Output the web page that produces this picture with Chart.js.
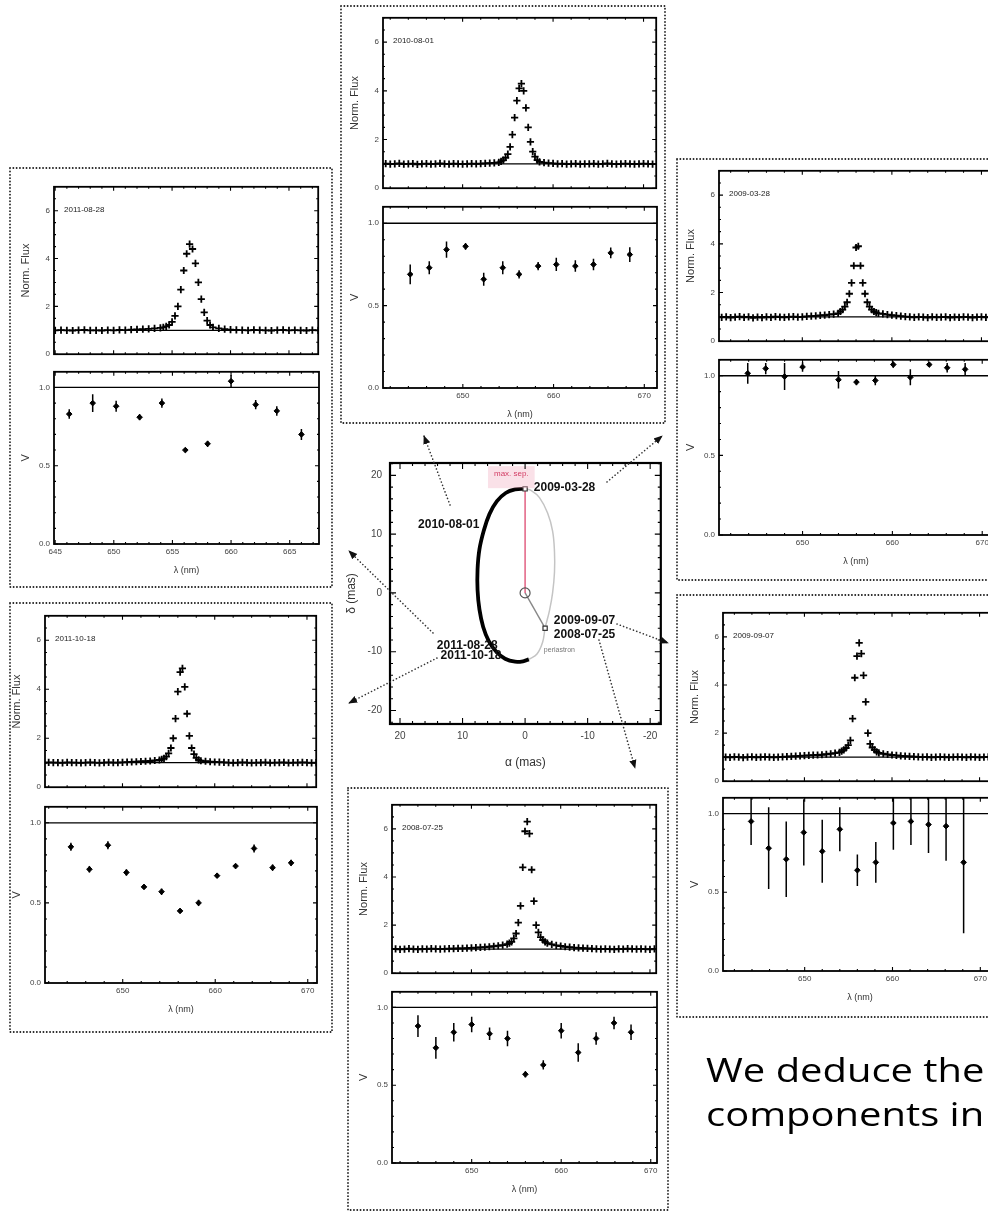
<!DOCTYPE html>
<html>
<head>
<meta charset="utf-8">
<script src="https://cdn.jsdelivr.net/npm/chart.js@4.4.1/dist/chart.umd.min.js"></script>
<style>
html, body { margin: 0; padding: 0; width: 988px; height: 1213px; overflow: hidden; background: #fff; }
#fig { position: absolute; left: 0; top: 0; width: 988px; height: 1213px; filter: blur(0.65px); }
#fig canvas { position: absolute; }
#deco { position: absolute; left: 0; top: 0; pointer-events: none; }
.caption { position: absolute; left: 706px; font-family: 'Open Sans', sans-serif; font-size: 33px; line-height: 44px; color: #000; white-space: nowrap; transform: scaleX(1.21); transform-origin: 0 0; }
</style>
</head>
<body>
<div id="fig"></div>
<div class="caption" style="top:1048px">We deduce the</div>
<div class="caption" style="top:1092px">components in</div>
<script>
// wavelength grid of the spectra (nm)
const fluxGrid = [
	641, 641.5, 642, 642.5, 643, 643.5, 644, 644.5, 645, 645.5, 646, 646.5, 647, 647.5, 648, 648.5, 649, 649.5, 650, 650.5, 651, 651.5, 652, 652.5, 653, 653.5, 654,
	654.25, 654.5, 654.75, 655, 655.25, 655.5, 655.75, 656, 656.25, 656.5, 656.75, 657, 657.25, 657.5, 657.75, 658, 658.25, 658.5,
	659, 659.5, 660, 660.5, 661, 661.5, 662, 662.5, 663, 663.5, 664, 664.5, 665, 665.5, 666, 666.5, 667, 667.5, 668, 668.5, 669, 669.5, 670, 670.5, 671
];

// normalised flux, one list per epoch
const flux20100801 = [
	1.00, 1.01, 0.99, 1.00, 1.02, 0.99, 1.00, 1.01, 0.98, 1.00, 1.01, 0.99, 1.00, 1.02, 1.00, 0.99, 1.01, 1.00, 0.99, 1.00, 1.01, 1.00, 1.01, 1.02, 1.03, 1.04, 1.06,
	1.10, 1.15, 1.25, 1.40, 1.70, 2.20, 2.90, 3.60, 4.10, 4.30, 4.00, 3.30, 2.50, 1.90, 1.50, 1.30, 1.15, 1.08,
	1.05, 1.03, 1.02, 1.00, 1.01, 0.99, 1.00, 1.01, 0.99, 1.00, 1.00, 1.01, 0.99, 1.00, 1.02, 1.00, 0.99, 1.00, 1.01, 1.00, 0.99, 1.00, 1.01, 1.00, 0.99
];
const flux20110828 = [
	1.02, 1.00, 1.01, 0.99, 1.00, 1.02, 1.01, 0.99, 1.00, 1.01, 1.00, 0.99, 1.01, 1.02, 1.00, 1.00, 0.99, 1.01, 1.00, 1.02, 1.01, 1.03, 1.04, 1.05, 1.06, 1.08, 1.10,
	1.12, 1.16, 1.22, 1.35, 1.60, 2.00, 2.70, 3.50, 4.20, 4.60, 4.40, 3.80, 3.00, 2.30, 1.75, 1.40, 1.22, 1.12,
	1.08, 1.05, 1.03, 1.02, 1.01, 1.00, 1.02, 1.01, 1.00, 0.99, 1.01, 1.02, 1.00, 1.01, 1.00, 0.99, 1.01, 1.00, 1.02, 1.01, 1.00, 1.01, 0.99, 1.00, 1.01
];
const flux20090328 = [
	0.98, 1.00, 0.97, 0.99, 1.01, 0.98, 1.00, 0.96, 0.99, 0.97, 1.00, 0.98, 1.01, 0.99, 0.98, 1.00, 1.01, 0.99, 1.00, 1.02, 1.03, 1.04, 1.06, 1.07, 1.09, 1.11, 1.14,
	1.22, 1.30, 1.42, 1.60, 1.95, 2.40, 3.10, 3.85, 3.90, 3.10, 2.40, 1.95, 1.60, 1.42, 1.30, 1.22, 1.17, 1.14,
	1.12, 1.09, 1.07, 1.05, 1.03, 1.01, 1.00, 0.98, 1.00, 0.99, 0.97, 1.00, 0.98, 0.99, 1.00, 0.97, 0.99, 0.98, 1.00, 0.99, 0.97, 0.99, 1.00, 0.98, 0.99
];
const flux20090907 = [
	1.00, 0.99, 1.01, 1.00, 0.98, 1.00, 1.01, 0.99, 1.00, 1.01, 1.00, 0.99, 1.00, 1.01, 1.02, 1.03, 1.04, 1.05, 1.06, 1.07, 1.08, 1.09, 1.10, 1.12, 1.14, 1.17, 1.20,
	1.25, 1.30, 1.38, 1.50, 1.70, 2.60, 4.30, 5.20, 5.75, 5.30, 4.40, 3.30, 2.00, 1.55, 1.40, 1.30, 1.22, 1.18,
	1.14, 1.11, 1.09, 1.07, 1.05, 1.04, 1.03, 1.02, 1.01, 1.00, 1.01, 0.99, 1.00, 1.01, 1.00, 0.99, 1.00, 1.01, 1.00, 0.99, 1.01, 1.00, 0.99, 1.00, 1.01
];
const flux20080725 = [
	1.00, 1.01, 0.99, 1.00, 1.02, 1.00, 0.99, 1.01, 1.00, 1.02, 1.01, 1.00, 1.01, 1.02, 1.02, 1.03, 1.03, 1.04, 1.05, 1.06, 1.07, 1.08, 1.10, 1.12, 1.14, 1.17, 1.21,
	1.25, 1.30, 1.45, 1.65, 2.10, 2.80, 4.40, 5.90, 6.30, 5.80, 4.30, 3.00, 2.00, 1.70, 1.50, 1.38, 1.30, 1.25,
	1.20, 1.16, 1.13, 1.10, 1.08, 1.06, 1.05, 1.04, 1.03, 1.02, 1.01, 1.00, 1.01, 1.00, 0.99, 1.01, 1.00, 1.02, 1.01, 1.00, 1.01, 1.00, 0.99, 1.01, 1.00
];
const flux20111018 = [
	1.00, 0.99, 1.01, 1.00, 1.00, 0.99, 1.01, 1.00, 1.00, 0.99, 1.00, 1.01, 1.00, 0.99, 1.00, 1.01, 1.00, 1.00, 1.01, 1.02, 1.03, 1.04, 1.05, 1.06, 1.07, 1.09, 1.11,
	1.14, 1.18, 1.25, 1.38, 1.60, 2.00, 2.80, 3.90, 4.70, 4.85, 4.10, 3.00, 2.10, 1.60, 1.35, 1.20, 1.12, 1.08,
	1.06, 1.04, 1.03, 1.02, 1.01, 1.00, 0.99, 1.00, 1.01, 1.00, 0.99, 1.00, 1.00, 1.01, 0.99, 1.00, 1.00, 1.01, 0.99, 1.00, 1.00, 1.01, 1.00, 0.99, 1.00
];

// visibilities: wavelength, value, error
const visWl20100801 = [644.2, 646.3, 648.2, 650.3, 652.3, 654.4, 656.2, 658.3, 660.3, 662.4, 664.4, 666.3, 668.4];
const vis20100801 = [0.69, 0.73, 0.84, 0.86, 0.66, 0.73, 0.69, 0.74, 0.75, 0.74, 0.75, 0.82, 0.81];
const visErr20100801 = [0.06, 0.04, 0.05, 0.02, 0.04, 0.04, 0.025, 0.025, 0.04, 0.035, 0.035, 0.033, 0.045];

const visWl20110828 = [646.2, 648.2, 650.2, 652.2, 654.1, 656.1, 658.0, 660.0, 662.1, 663.9, 666.0];
const vis20110828 = [0.83, 0.90, 0.88, 0.81, 0.90, 0.60, 0.64, 1.04, 0.89, 0.85, 0.70];
const visErr20110828 = [0.03, 0.057, 0.035, 0.02, 0.03, 0.015, 0.02, 0.04, 0.03, 0.03, 0.035];

const visWl20090328 = [643.9, 645.9, 648.0, 650.0, 654.0, 656.0, 658.1, 660.1, 662.0, 664.1, 666.1, 668.1];
const vis20090328 = [1.015, 1.045, 0.995, 1.055, 0.975, 0.96, 0.97, 1.07, 0.99, 1.07, 1.05, 1.04];
const visErr20090328 = [0.065, 0.035, 0.085, 0.03, 0.055, 0.02, 0.03, 0.02, 0.05, 0.015, 0.03, 0.04];

const visWl20090907 = [643.9, 645.9, 647.9, 649.9, 652.0, 654.0, 656.0, 658.1, 660.1, 662.1, 664.1, 666.1, 668.1];
const vis20090907 = [0.95, 0.78, 0.71, 0.88, 0.76, 0.90, 0.64, 0.69, 0.94, 0.95, 0.93, 0.92, 0.69];
const visErr20090907 = [0.15, 0.26, 0.24, 0.21, 0.20, 0.14, 0.10, 0.13, 0.17, 0.15, 0.18, 0.22, 0.45];

const visWl20080725 = [644.0, 646.0, 648.0, 650.0, 652.0, 654.0, 656.0, 658.0, 660.0, 661.9, 663.9, 665.9, 667.8];
const vis20080725 = [0.88, 0.74, 0.84, 0.89, 0.83, 0.80, 0.57, 0.63, 0.85, 0.71, 0.80, 0.90, 0.84];
const visErr20080725 = [0.07, 0.07, 0.06, 0.05, 0.04, 0.05, 0.02, 0.03, 0.05, 0.06, 0.04, 0.04, 0.05];

const visWl20111018 = [644.4, 646.4, 648.4, 650.4, 652.3, 654.2, 656.2, 658.2, 660.2, 662.2, 664.2, 666.2, 668.2];
const vis20111018 = [0.85, 0.71, 0.86, 0.69, 0.60, 0.57, 0.45, 0.50, 0.67, 0.73, 0.84, 0.72, 0.75];
const visErr20111018 = [0.025, 0.02, 0.025, 0.02, 0.015, 0.02, 0.015, 0.02, 0.015, 0.015, 0.025, 0.02, 0.02];

// orbit of the companion (mas)
const orbitObserved = [
	[0.0, 17.7], [1.6, 17.6], [3.1, 17.0], [4.5, 15.6], [5.7, 13.4], [6.6, 10.6], [7.3, 7.4], [7.6, 4.0], [7.6, 0.5],
	[7.3, -2.8], [6.7, -5.8], [5.8, -8.2], [4.6, -10.0], [3.2, -11.2], [1.6, -11.7], [0.2, -11.6], [-0.6, -11.3]
];
const orbitRest = [
	[-0.6, -11.3], [-1.9, -10.4], [-2.8, -8.4], [-3.2, -6.0], [-3.9, -3.0], [-4.4, 0.0], [-4.7, 3.5], [-4.7, 7.0],
	[-4.4, 10.5], [-3.6, 13.6], [-2.3, 16.2], [-1.0, 17.4], [0.0, 17.7]
];
const primaryPos = [0, 0];
const maxSepPos = [0, 17.7];
const periastronPos = [-3.2, -6.0];
const orbitLabels = [
	{ text: '2009-03-28', x: -1.4, y: 17.9, align: 'left', kind: 'date' },
	{ text: '2010-08-01', x: 7.3, y: 11.6, align: 'right', kind: 'date' },
	{ text: '2011-08-28', x: 4.4, y: -8.9, align: 'right', kind: 'date' },
	{ text: '2011-10-18', x: 3.8, y: -10.7, align: 'right', kind: 'date' },
	{ text: '2009-09-07', x: -4.6, y: -4.75, align: 'left', kind: 'date' },
	{ text: '2008-07-25', x: -4.6, y: -7.05, align: 'left', kind: 'date' },
	{ text: 'periastron', x: -3.0, y: -9.8, align: 'left', kind: 'peri' },
	{ text: 'max. sep.', x: 2.2, y: 20.2, align: 'center', kind: 'max' }
];

const fig = document.getElementById('fig');
const FONT = '"Liberation Sans", Arial, sans-serif';
Chart.defaults.font.family = FONT;
Chart.defaults.animation = false;
Chart.defaults.plugins.legend.display = false;
Chart.defaults.plugins.tooltip.enabled = false;

const frameTicks = {
	id: 'frameTicks',
	afterDraw(chart, args, opts) {
		const { ctx, chartArea: a, scales } = chart;
		ctx.save();
		ctx.strokeStyle = '#000';
		ctx.lineWidth = opts.lineWidth;
		ctx.strokeRect(a.left, a.top, a.right - a.left, a.bottom - a.top);
		ctx.lineWidth = 1.1;
		const drawAxis = (scale, minor, major, horizontal) => {
			const lo = Math.min(scale.min, scale.max);
			const hi = Math.max(scale.min, scale.max);
			const k0 = Math.ceil(lo / minor - 1e-9);
			const k1 = Math.floor(hi / minor + 1e-9);
			for (let k = k0; k <= k1; k++) {
				const v = k * minor;
				const isMajor = Math.abs(v / major - Math.round(v / major)) < 1e-6;
				const len = isMajor ? opts.majorLen : opts.minorLen;
				const p = scale.getPixelForValue(v);
				ctx.beginPath();
				if (horizontal) {
					ctx.moveTo(p, a.bottom); ctx.lineTo(p, a.bottom - len);
					ctx.moveTo(p, a.top); ctx.lineTo(p, a.top + len);
				} else {
					ctx.moveTo(a.left, p); ctx.lineTo(a.left + len, p);
					ctx.moveTo(a.right, p); ctx.lineTo(a.right - len, p);
				}
				ctx.stroke();
			}
		};
		drawAxis(scales.x, opts.xMinor, opts.xMajor, true);
		drawAxis(scales.y, opts.yMinor, opts.yMajor, false);
		ctx.restore();
	}
};

const errorBars = {
	id: 'errorBars',
	afterDatasetsDraw(chart) {
		const { ctx, chartArea: a, scales: { x, y } } = chart;
		ctx.save();
		ctx.beginPath();
		ctx.rect(a.left, a.top, a.right - a.left, a.bottom - a.top);
		ctx.clip();
		ctx.strokeStyle = '#000';
		ctx.lineWidth = 1.5;
		chart.data.datasets.forEach(ds => {
			if (!ds.errors) return;
			ds.data.forEach((pt, i) => {
				const e = ds.errors[i];
				const px = x.getPixelForValue(pt.x);
				ctx.beginPath();
				ctx.moveTo(px, y.getPixelForValue(pt.y - e));
				ctx.lineTo(px, y.getPixelForValue(pt.y + e));
				ctx.stroke();
			});
		});
		ctx.restore();
	}
};

const cornerLabel = {
	id: 'cornerLabel',
	afterDraw(chart, args, opts) {
		if (!opts.text) return;
		const { ctx, chartArea: a } = chart;
		ctx.save();
		ctx.font = '8px ' + FONT;
		ctx.fillStyle = '#222';
		ctx.textBaseline = 'middle';
		ctx.fillText(opts.text, a.left + 10, a.top + 23);
		ctx.restore();
	}
};

const orbitText = {
	id: 'orbitText',
	afterDatasetsDraw(chart) {
		const { ctx, scales: { x, y } } = chart;
		ctx.save();
		ctx.textBaseline = 'middle';
		orbitLabels.forEach(l => {
			const px = x.getPixelForValue(l.x);
			const py = y.getPixelForValue(l.y);
			ctx.textAlign = l.align;
			if (l.kind === 'date') {
				ctx.font = 'bold 12px ' + FONT;
				ctx.fillStyle = '#111';
			} else if (l.kind === 'peri') {
				ctx.font = '7px ' + FONT;
				ctx.fillStyle = '#777';
			} else {
				ctx.font = '8px ' + FONT;
				const w = ctx.measureText(l.text).width;
				ctx.fillStyle = 'rgba(240,170,190,0.35)';
				ctx.fillRect(px - w / 2 - 6, py - 8, w + 12, 22);
				ctx.fillStyle = '#d23c64';
			}
			ctx.fillText(l.text, px, py);
		});
		ctx.restore();
	}
};

const makeCanvas = (left, top, width, height) => {
	const c = document.createElement('canvas');
	c.width = width;
	c.height = height;
	c.style.left = left + 'px';
	c.style.top = top + 'px';
	c.style.width = width + 'px';
	c.style.height = height + 'px';
	fig.appendChild(c);
	return c;
};

const AXIS_W = 36;
const X_AXIS_H = 32;
const tickFont = { size: 8 };

const yScale = (min, max, step, title, fmt) => ({
	type: 'linear', min: min, max: max,
	grid: { display: false, drawTicks: false },
	border: { display: false },
	ticks: { stepSize: step, includeBounds: false, padding: 4, color: '#444', font: tickFont, callback: fmt },
	title: { display: true, text: title, color: '#333', font: { size: 11 }, padding: { top: 1, bottom: 0 } },
	afterFit: s => { s.width = AXIS_W; }
});

const createPanel = (p) => {
	const fluxCanvas = makeCanvas(p.frameX - AXIS_W, p.fluxTop - 4, AXIS_W + p.frameW + 4, p.fluxH + 8);
	new Chart(fluxCanvas, {
		type: 'scatter',
		data: {
			datasets: [
				{
					data: fluxGrid.map((w, i) => ({ x: w, y: p.flux[i] })),
					pointStyle: 'cross', pointRadius: 3.6, borderColor: '#000', borderWidth: 1.8,
				},
				{
					data: [{ x: p.xMin, y: 1 }, { x: p.xMax, y: 1 }],
					showLine: true, pointRadius: 0, borderColor: '#000', borderWidth: 1.2,
				},
			]
		},
		options: {
			responsive: false,
			layout: { padding: { top: 4, right: 4, bottom: 4, left: 0 } },
			scales: {
				x: { type: 'linear', min: p.xMin, max: p.xMax, display: false },
				y: yScale(0, 7, 2, 'Norm. Flux', v => String(v)),
			},
			plugins: {
				frameTicks: { lineWidth: 1.8, majorLen: 4, minorLen: 2, xMajor: p.xStep, xMinor: p.xMinor, yMajor: 2, yMinor: 0.5 },
				cornerLabel: { text: p.date },
			}
		},
		plugins: [frameTicks, cornerLabel]
	});

	const visCanvas = makeCanvas(p.frameX - AXIS_W, p.vTop - 4, AXIS_W + p.frameW + 4, p.vH + 4 + X_AXIS_H);
	new Chart(visCanvas, {
		type: 'scatter',
		data: {
			datasets: [
				{
					data: p.visWl.map((w, i) => ({ x: w, y: p.vis[i] })),
					errors: p.visErr,
					pointStyle: 'rectRot', pointRadius: 2.8, backgroundColor: '#000', borderColor: '#000', borderWidth: 1,
				},
				{
					data: [{ x: p.xMin, y: 1 }, { x: p.xMax, y: 1 }],
					showLine: true, pointRadius: 0, borderColor: '#000', borderWidth: 1.3,
				},
			]
		},
		options: {
			responsive: false,
			layout: { padding: { top: 4, right: 4, bottom: 0, left: 0 } },
			scales: {
				x: {
					type: 'linear', min: p.xMin, max: p.xMax,
					grid: { display: false, drawTicks: false },
					border: { display: false },
					ticks: { stepSize: p.xStep, includeBounds: false, padding: 3, color: '#444', font: tickFont, maxRotation: 0, autoSkip: false },
					title: { display: true, text: 'λ (nm)', color: '#333', font: { size: 9 }, padding: { top: 0, bottom: 0 } },
					afterFit: s => { s.height = X_AXIS_H; }
				},
				y: yScale(0, 1.1, 0.5, 'V', v => v.toFixed(1)),
			},
			plugins: {
				frameTicks: { lineWidth: 1.8, majorLen: 4, minorLen: 2, xMajor: p.xStep, xMinor: p.xMinor, yMajor: 0.5, yMinor: 0.1 },
			}
		},
		plugins: [frameTicks, errorBars]
	});
};

createPanel({ date: '2010-08-01', frameX: 383, frameW: 275, fluxTop: 13, fluxH: 180, vTop: 202, vH: 186,
	xMin: 641.2, xMax: 671.4, xStep: 10, xMinor: 2, flux: flux20100801, visWl: visWl20100801, vis: vis20100801, visErr: visErr20100801 });
createPanel({ date: '2011-08-28', frameX: 54, frameW: 266, fluxTop: 182, fluxH: 177, vTop: 367, vH: 177,
	xMin: 644.9, xMax: 667.5, xStep: 5, xMinor: 1, flux: flux20110828, visWl: visWl20110828, vis: vis20110828, visErr: visErr20110828 });
createPanel({ date: '2011-10-18', frameX: 45, frameW: 273, fluxTop: 611, fluxH: 181, vTop: 802, vH: 181,
	xMin: 641.6, xMax: 671.0, xStep: 10, xMinor: 2, flux: flux20111018, visWl: visWl20111018, vis: vis20111018, visErr: visErr20111018 });
createPanel({ date: '2009-03-28', frameX: 719, frameW: 275, fluxTop: 166, fluxH: 180, vTop: 355, vH: 180,
	xMin: 640.7, xMax: 671.2, xStep: 10, xMinor: 2, flux: flux20090328, visWl: visWl20090328, vis: vis20090328, visErr: visErr20090328 });
createPanel({ date: '2009-09-07', frameX: 723, frameW: 275, fluxTop: 608, fluxH: 178, vTop: 793, vH: 178,
	xMin: 640.7, xMax: 671.9, xStep: 10, xMinor: 2, flux: flux20090907, visWl: visWl20090907, vis: vis20090907, visErr: visErr20090907 });
createPanel({ date: '2008-07-25', frameX: 392, frameW: 266, fluxTop: 800, fluxH: 178, vTop: 987, vH: 176,
	xMin: 641.1, xMax: 670.7, xStep: 10, xMinor: 2, flux: flux20080725, visWl: visWl20080725, vis: vis20080725, visErr: visErr20080725 });

// central orbit plot
const toXY = pts => pts.map(p => ({ x: p[0], y: p[1] }));
const orbitCanvas = makeCanvas(340, 449, 327, 325);
new Chart(orbitCanvas, {
	type: 'scatter',
	data: {
		datasets: [
			{ data: toXY([primaryPos]), pointStyle: 'circle', pointRadius: 5, borderColor: '#555', borderWidth: 1.2, backgroundColor: 'rgba(0,0,0,0)' },
			{ data: toXY([maxSepPos, periastronPos]), pointStyle: 'rect', pointRadius: 3, borderColor: '#333', borderWidth: 1.2, backgroundColor: '#fff' },
			{ data: toXY([primaryPos, maxSepPos]), showLine: true, pointRadius: 0, borderColor: '#e0557a', borderWidth: 1.4 },
			{ data: toXY([primaryPos, periastronPos]), showLine: true, pointRadius: 0, borderColor: '#888', borderWidth: 1.4 },
			{ data: toXY(orbitObserved), showLine: true, pointRadius: 0, borderColor: '#000', borderWidth: 3.8, tension: 0.4 },
			{ data: toXY(orbitRest), showLine: true, pointRadius: 0, borderColor: '#c4c4c4', borderWidth: 1.5, tension: 0.4 },
		]
	},
	options: {
		responsive: false,
		layout: { padding: { top: 4, right: 4, bottom: 0, left: 0 } },
		scales: {
			x: {
				type: 'linear', reverse: true, min: -21.7, max: 21.6,
				grid: { display: false, drawTicks: false },
				border: { display: false },
				ticks: { stepSize: 10, includeBounds: false, padding: 6, color: '#444', font: { size: 10 } },
				title: { display: true, text: 'α (mas)', color: '#333', font: { size: 12 }, padding: { top: 0, bottom: 4 } },
				afterFit: s => { s.height = 50; }
			},
			y: {
				type: 'linear', min: -22.3, max: 22.1,
				grid: { display: false, drawTicks: false },
				border: { display: false },
				ticks: { stepSize: 10, includeBounds: false, padding: 8, color: '#444', font: { size: 10 } },
				title: { display: true, text: 'δ (mas)', color: '#333', font: { size: 12 }, padding: { top: 4, bottom: 0 } },
				afterFit: s => { s.width = 50; }
			}
		},
		plugins: {
			frameTicks: { lineWidth: 2.2, majorLen: 6, minorLen: 3, xMajor: 10, xMinor: 2, yMajor: 10, yMinor: 2 },
		}
	},
	plugins: [frameTicks, orbitText]
});

// dotted frames and arrows
const svgNS = 'http://www.w3.org/2000/svg';
const deco = document.createElementNS(svgNS, 'svg');
deco.setAttribute('id', 'deco');
deco.setAttribute('width', '1020');
deco.setAttribute('height', '1213');
deco.innerHTML = '<defs><marker id="ah" viewBox="0 0 10 10" refX="9" refY="5" markerWidth="9" markerHeight="9" markerUnits="userSpaceOnUse" orient="auto"><path d="M0,1 L10,5 L0,9 z" fill="#111"/></marker></defs>';
const boxes = [[341, 6, 324, 417], [10, 168, 322, 419], [10, 603, 322, 429], [677, 159, 340, 421], [677, 595, 340, 422], [348, 788, 320, 422]];
boxes.forEach(b => {
	const r = document.createElementNS(svgNS, 'rect');
	r.setAttribute('x', b[0]); r.setAttribute('y', b[1]);
	r.setAttribute('width', b[2]); r.setAttribute('height', b[3]);
	r.setAttribute('fill', 'none'); r.setAttribute('stroke', '#222');
	r.setAttribute('stroke-width', '1.8'); r.setAttribute('stroke-dasharray', '0.1 3.2');
	r.setAttribute('stroke-linecap', 'round');
	deco.appendChild(r);
});
const arrows = [[450, 505, 424, 436], [607, 482, 662, 436], [433, 633, 349, 551], [437, 658, 349, 703], [617, 624, 668, 643], [599, 640, 635, 768]];
arrows.forEach(a => {
	const l = document.createElementNS(svgNS, 'line');
	l.setAttribute('x1', a[0]); l.setAttribute('y1', a[1]);
	l.setAttribute('x2', a[2]); l.setAttribute('y2', a[3]);
	l.setAttribute('stroke', '#333'); l.setAttribute('stroke-width', '1.6');
	l.setAttribute('stroke-dasharray', '0.1 3.4'); l.setAttribute('stroke-linecap', 'round');
	l.setAttribute('marker-end', 'url(#ah)');
	deco.appendChild(l);
});
fig.appendChild(deco);
</script>
</body>
</html>
